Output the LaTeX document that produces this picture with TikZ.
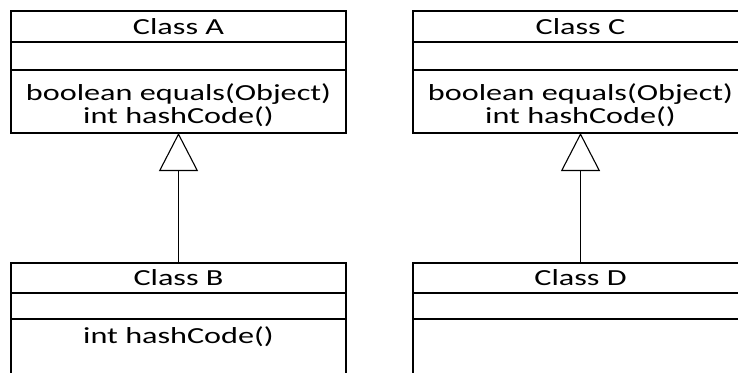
\documentclass[tikz,border=0pt]{standalone}
\usepackage{fontspec}
\setmainfont{Carlito}[FakeStretch=1.4]
\usetikzlibrary{arrows.meta}
\begin{document}
\begin{tikzpicture}[x=1pt,y=-1pt,
  part/.style={draw=black, line width=1.1pt, minimum width=335pt, inner sep=0pt, outer sep=0pt},
  member/.style={anchor=base, inner sep=0pt, outer sep=0pt, text=black,
    font=\fontsize{23}{24}\selectfont},
  inherit/.style={draw=black, line width=1.1pt,
    -{Triangle[open, length=38pt, width=39pt, fill=white]}}]
\useasboundingbox (0,0) rectangle (738,372);
\clip (0,0) rectangle (738,372);

% Class A
\node[part, minimum height=31pt] (Ahead) at (178.5,26.5) {};
\node[part, minimum height=28pt] (Aattr) at (178.5,56) {};
\node[part, minimum height=63pt] (Aops)  at (178.5,101.5) {};
\node[member] (Aname) at (178.5,34) {Class A};
\node[member] (Aeq)   at (178.5,100) {boolean equals(Object)};
\node[member] (Ahash) at (178.5,123.5) {int hashCode()};

% Class B
\node[part, minimum height=30pt] (Bhead) at (178.5,278) {};
\node[part, minimum height=26pt] (Battr) at (178.5,306) {};
\node[part, minimum height=90pt] (Bops)  at (178.5,364) {};
\node[member] (Bname) at (178.5,285.5) {Class B};
\node[member] (Bhash) at (178.5,343) {int hashCode()};

% Class C
\node[part, minimum height=31pt] (Chead) at (580.5,26.5) {};
\node[part, minimum height=28pt] (Cattr) at (580.5,56) {};
\node[part, minimum height=63pt] (Cops)  at (580.5,101.5) {};
\node[member] (Cname) at (580.5,34) {Class C};
\node[member] (Ceq)   at (580.5,100) {boolean equals(Object)};
\node[member] (Chash) at (580.5,123.5) {int hashCode()};

% Class D
\node[part, minimum height=30pt] (Dhead) at (580.5,278) {};
\node[part, minimum height=26pt] (Dattr) at (580.5,306) {};
\node[part, minimum height=90pt] (Dops)  at (580.5,364) {};
\node[member] (Dname) at (580.5,285.5) {Class D};

% Generalisations
\draw[inherit] (Bhead.north) -- (Aops.south);
\draw[inherit] (Dhead.north) -- (Cops.south);
\end{tikzpicture}
\end{document}
